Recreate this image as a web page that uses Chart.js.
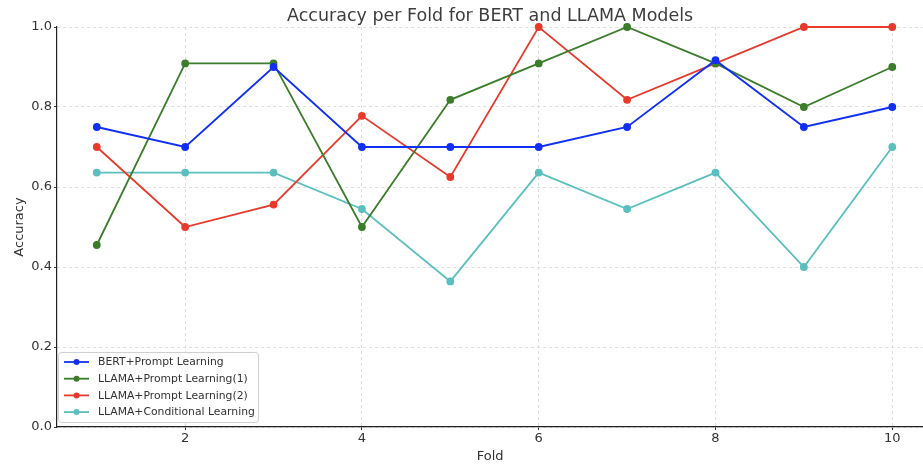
<!DOCTYPE html>
<html>
<head>
<meta charset="utf-8">
<script src="https://cdn.jsdelivr.net/npm/chart.js@4/dist/chart.umd.min.js"></script>
<style>
  html, body { margin: 0; padding: 0; background: #fff; overflow: hidden; }
  #wrap { width: 928px; height: 466px; position: relative; }
</style>
</head>
<body>
<div id="wrap"><canvas id="accChart"></canvas></div>
<script>
const folds = [1, 2, 3, 4, 5, 6, 7, 8, 9, 10];
const bertPrompt = [0.75, 0.70, 0.90, 0.70, 0.70, 0.70, 0.75, 0.917, 0.75, 0.80];
const llamaPrompt1 = [0.455, 0.909, 0.909, 0.50, 0.818, 0.909, 1.0, 0.909, 0.80, 0.90];
const llamaPrompt2 = [0.70, 0.50, 0.556, 0.778, 0.625, 1.0, 0.818, 0.909, 1.0, 1.0];
const llamaConditional = [0.636, 0.636, 0.636, 0.545, 0.364, 0.636, 0.545, 0.636, 0.40, 0.70];
const xTicks = [2, 4, 6, 8, 10];
const yTicks = [0.0, 0.2, 0.4, 0.6, 0.8, 1.0];

const series = [
  { label: 'BERT+Prompt Learning', data: bertPrompt, color: '#1230f5' },
  { label: 'LLAMA+Prompt Learning(1)', data: llamaPrompt1, color: '#3b7d2b' },
  { label: 'LLAMA+Prompt Learning(2)', data: llamaPrompt2, color: '#e83a2c' },
  { label: 'LLAMA+Conditional Learning', data: llamaConditional, color: '#5bbfbf' }
];

// legend drawn inside the plot, lower left
const innerLegend = {
  id: 'innerLegend',
  afterDatasetsDraw(chart) {
    const { ctx, chartArea } = chart;
    const x = chartArea.left + 1, y = chartArea.bottom - 75, w = 200, h = 70;
    ctx.save();
    ctx.fillStyle = 'rgba(255,255,255,0.85)';
    ctx.strokeStyle = '#d0d0d0';
    ctx.lineWidth = 1;
    ctx.beginPath();
    ctx.roundRect(x + 0.5, y + 0.5, w, h, 3);
    ctx.fill();
    ctx.stroke();
    ctx.font = '10.8px "DejaVu Sans"';
    ctx.textBaseline = 'middle';
    chart.data.datasets.forEach((ds, i) => {
      const ry = y + 10 + i * 16.7;
      ctx.strokeStyle = ds.borderColor;
      ctx.lineWidth = 1.8;
      ctx.beginPath();
      ctx.moveTo(x + 6, ry);
      ctx.lineTo(x + 31, ry);
      ctx.stroke();
      ctx.fillStyle = ds.borderColor;
      ctx.beginPath();
      ctx.arc(x + 18.5, ry, 3, 0, Math.PI * 2);
      ctx.fill();
      ctx.fillStyle = '#333';
      ctx.fillText(ds.label, x + 40, ry + 0.5);
    });
    ctx.restore();
  }
};

const gridStyle = {
  color: '#d6d6d6', lineWidth: 0.8,
  drawTicks: true, tickLength: 3, tickColor: '#333', tickWidth: 1, tickBorderDash: []
};

new Chart(document.getElementById('accChart').getContext('2d'), {
  type: 'line',
  data: {
    datasets: series.map(s => ({
      label: s.label,
      data: folds.map((f, i) => ({ x: f, y: s.data[i] })),
      borderColor: s.color,
      backgroundColor: s.color,
      borderWidth: 1.8,
      pointRadius: 3,
      pointHoverRadius: 3,
      tension: 0,
      clip: 4
    }))
  },
  options: {
    responsive: true,
    maintainAspectRatio: false,
    animation: false,
    layout: { padding: 0 },
    plugins: {
      legend: { display: false },
      tooltip: { enabled: false },
      title: {
        display: true,
        text: 'Accuracy per Fold for BERT and LLAMA Models',
        fullSize: false,
        color: '#3d3d3d',
        font: { family: 'DejaVu Sans', size: 17.5, weight: 'normal' },
        padding: { top: 6, bottom: 0 }
      }
    },
    scales: {
      x: {
        type: 'linear',
        min: 0.55,
        max: 10.35,
        afterBuildTicks: axis => { axis.ticks = xTicks.map(v => ({ value: v })); },
        afterFit: axis => { axis.height = 39; },
        grid: { ...gridStyle },
        border: { display: true, color: '#222', width: 1.2, dash: [3, 3] },
        ticks: { color: '#333', padding: 1, font: { family: 'DejaVu Sans', size: 13 } },
        title: { display: true, text: 'Fold', color: '#333', padding: { top: 0, bottom: 2 }, font: { family: 'DejaVu Sans', size: 13 } }
      },
      y: {
        min: 0,
        max: 1.0,
        afterBuildTicks: axis => { axis.ticks = yTicks.map(v => ({ value: v })); },
        afterFit: axis => { axis.width = 57; },
        grid: { ...gridStyle },
        border: { display: true, color: '#222', width: 1.2, dash: [3, 3] },
        ticks: { color: '#333', padding: 2, font: { family: 'DejaVu Sans', size: 13 }, callback: v => v.toFixed(1) },
        title: { display: true, text: 'Accuracy', color: '#333', padding: { top: 12, bottom: 4 }, font: { family: 'DejaVu Sans', size: 13 } }
      }
    }
  },
  plugins: [innerLegend]
});
</script>
</body>
</html>
